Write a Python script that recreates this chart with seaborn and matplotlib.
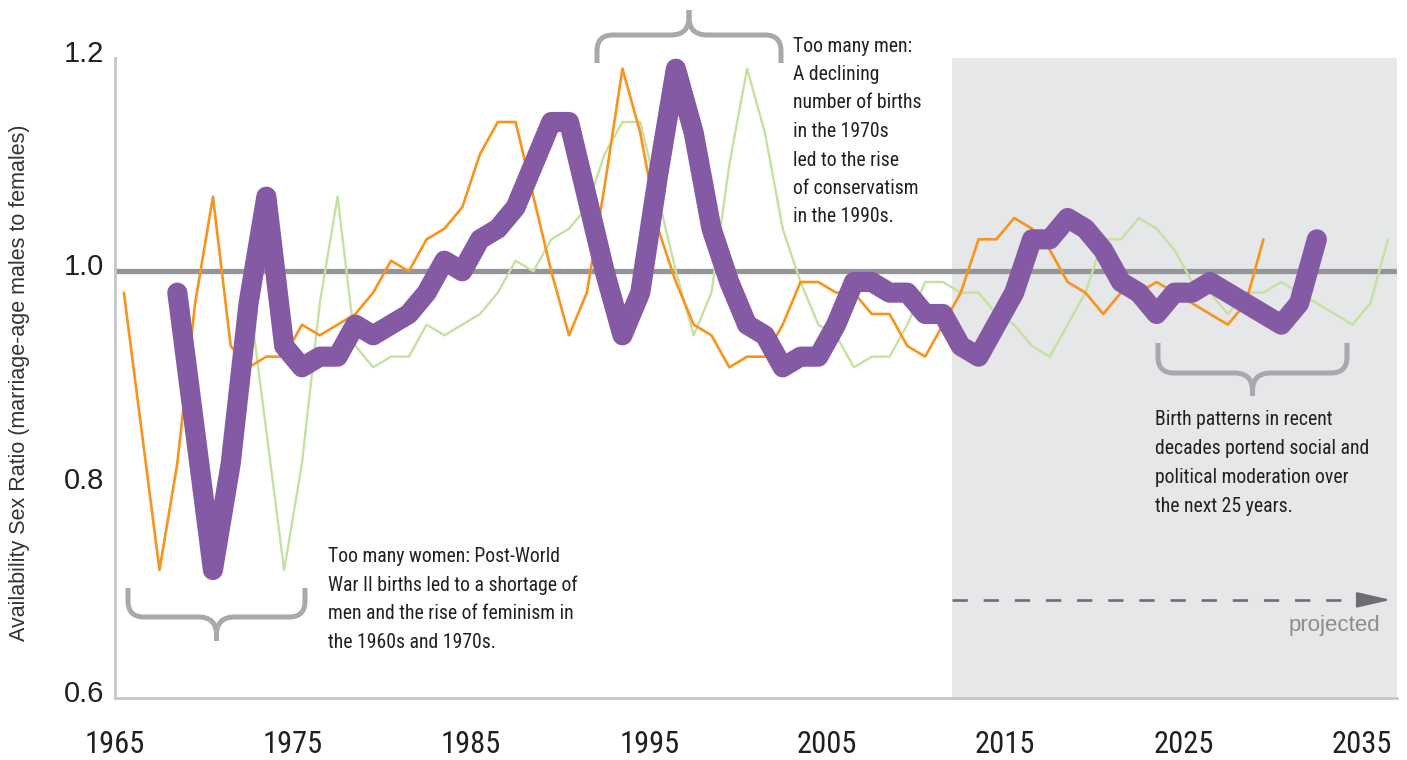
"""
plot.py - Availability sex ratio by cohort, with the projected years shaded.
"""
import matplotlib
matplotlib.use("Agg")
import matplotlib.pyplot as plt
import matplotlib.transforms as mtransforms
from matplotlib import font_manager as fm
from matplotlib.path import Path
from matplotlib.patches import PathPatch
import numpy as np
import pandas as pd
import seaborn as sns

W, H = 1407, 760

# yearly values, each series given as first year + list
ORANGE_START = 1965
ORANGE = [0.98, 0.85, 0.72, 0.82, 0.97, 1.07, 0.93, 0.91, 0.92, 0.92,
          0.95, 0.94, 0.95, 0.96, 0.98, 1.01, 1.00, 1.03, 1.04, 1.06,
          1.11, 1.14, 1.14, 1.07, 1.00, 0.94, 0.98, 1.08, 1.19, 1.13,
          1.04, 0.99, 0.95, 0.94, 0.91, 0.92, 0.92, 0.95, 0.99, 0.99,
          0.98, 0.98, 0.96, 0.96, 0.93, 0.92, 0.95, 0.98, 1.03, 1.03,
          1.05, 1.04, 1.02, 0.99, 0.98, 0.96, 0.98, 0.98, 0.99, 0.98,
          0.97, 0.96, 0.95, 0.97, 1.03]

PURPLE_START = 1968
PURPLE = [0.98, 0.85, 0.72, 0.82, 0.97, 1.07, 0.93, 0.91, 0.92, 0.92,
          0.95, 0.94, 0.95, 0.96, 0.98, 1.01, 1.00, 1.03, 1.04, 1.06,
          1.10, 1.14, 1.14, 1.07, 1.00, 0.94, 0.98, 1.09, 1.19, 1.13,
          1.04, 0.99, 0.95, 0.94, 0.91, 0.92, 0.92, 0.95, 0.99, 0.99,
          0.98, 0.98, 0.96, 0.96, 0.93, 0.92, 0.95, 0.98, 1.03, 1.03,
          1.05, 1.04, 1.02, 0.99, 0.98, 0.96, 0.98, 0.98, 0.99, 0.98,
          0.97, 0.96, 0.95, 0.97, 1.03]

GREEN_START = 1972
GREEN = [0.98, 0.85, 0.72, 0.82, 0.97, 1.07, 0.93, 0.91, 0.92, 0.92,
         0.95, 0.94, 0.95, 0.96, 0.98, 1.01, 1.00, 1.03, 1.04, 1.06,
         1.11, 1.14, 1.14, 1.07, 1.00, 0.94, 0.98, 1.10, 1.19, 1.13,
         1.04, 0.99, 0.95, 0.94, 0.91, 0.92, 0.92, 0.95, 0.99, 0.99,
         0.98, 0.98, 0.96, 0.95, 0.93, 0.92, 0.95, 0.98, 1.03, 1.03,
         1.05, 1.04, 1.02, 0.99, 0.98, 0.96, 0.98, 0.98, 0.99, 0.98,
         0.97, 0.96, 0.95, 0.97, 1.03]

X_TICKS = [1965, 1975, 1985, 1995, 2005, 2015, 2025, 2035]
Y_TICKS = [0.6, 0.8, 1.0, 1.2]
Y_TICK_LABELS = ["0.6", "0.8", "1.0", "1.2"]
X_RANGE = (1965, 2037)
Y_RANGE = (0.6, 1.2)
PROJECTED_FROM = 2012
PARITY = 1.0
ARROW_Y = 0.692

Y_LABEL = "Availability Sex Ratio (marriage-age males to females)"
NOTE_WOMEN = ["Too many women: Post-World",
              "War II births led to a shortage of",
              "men and the rise of feminism in",
              "the 1960s and 1970s."]
NOTE_MEN = ["Too many men:", "A declining", "number of births", "in the 1970s",
            "led to the rise", "of conservatism", "in the 1990s."]
NOTE_FUTURE = ["Birth patterns in recent", "decades portend social and",
               "political moderation over", "the next 25 years."]
PROJECTED_LABEL = "projected"

PURPLE_C = "#855aa5"
ORANGE_C = "#f7941d"
GREEN_C = "#c6e09f"
PARITY_C = "#939598"
SHADE_C = "#e6e7e8"
AXIS_C = "#c4c6c8"
BRACE_C = "#a7a9ac"
TEXT_C = "#231f20"
ARROW_C = "#6d6e71"

REGULAR = ["Liberation Sans", "DejaVu Sans"]


def find_condensed():
    # look for an installed condensed / narrow regular face
    prefer = ["Roboto Condensed", "Liberation Sans Narrow", "Noto Sans",
              "DejaVu Sans", "Open Sans", "Roboto", "Lato", "Inter"]
    found = {}
    for f in fm.fontManager.ttflist:
        if f.style != "normal" or f.weight not in (400, "normal", "regular", "book"):
            continue
        narrow = f.stretch in ("condensed", "semi-condensed", "extra-condensed") \
            or "Narrow" in f.name or "Condensed" in f.name
        if narrow:
            found.setdefault(f.name, f.fname)
    for name in prefer:
        if name in found:
            return found[name]
    if found:
        return found[sorted(found)[0]]
    return None


COND_FILE = find_condensed()


def cond(size):
    if COND_FILE:
        return fm.FontProperties(fname=COND_FILE, size=size)
    return fm.FontProperties(family=REGULAR, size=size * 0.82)


def series_frame(name, start, values):
    years = np.arange(start, start + len(values))
    return pd.DataFrame({"series": name, "year": years, "ratio": values})


def px(x, y):
    # image pixel (top-left origin) -> figure fraction
    return (x / W, 1 - y / H)


def brace(fig, x0, x1, y_end, y_bar, y_tip, r=16, tip_r=18):
    xc = (x0 + x1) / 2
    s = 1 if y_bar > y_end else -1
    codes = [Path.MOVETO, Path.LINETO, Path.CURVE3, Path.CURVE3,
             Path.LINETO, Path.CURVE3, Path.CURVE3, Path.LINETO]
    for xe, d in ((x0, 1), (x1, -1)):
        verts = [(xe, y_end), (xe, y_bar - s * r), (xe, y_bar), (xe + d * r, y_bar),
                 (xc - d * tip_r, y_bar), (xc, y_bar), (xc, y_bar + s * tip_r), (xc, y_tip)]
        path = Path([px(*v) for v in verts], codes)
        fig.add_artist(PathPatch(path, transform=fig.transFigure, fill=False,
                                 edgecolor=BRACE_C, linewidth=3.6,
                                 capstyle="butt", joinstyle="round"))


def note(fig, x, y0, lines, pitch=28.7):
    for i, line in enumerate(lines):
        fig.text(*px(x, y0 + i * pitch), line, ha="left", va="baseline",
                 fontproperties=cond(14.2), color=TEXT_C)


df = pd.concat([series_frame("green", GREEN_START, GREEN),
                series_frame("orange", ORANGE_START, ORANGE),
                series_frame("purple", PURPLE_START, PURPLE)], ignore_index=True)
df["x"] = df["year"] + 0.5  # points sit mid-year, between the year ticks

sns.set_theme(style="white")
plt.rcParams["font.family"] = REGULAR

fig = plt.figure(figsize=(W / 100, H / 100), dpi=100)
ax = fig.add_axes([115 / W, 62 / H, (1397 - 115) / W, (698 - 58) / H])

ax.axvspan(PROJECTED_FROM, X_RANGE[1], color=SHADE_C, lw=0, zorder=0)
ax.axhline(PARITY, color=PARITY_C, lw=3.8, zorder=1)

styles = [("green", GREEN_C, 1.7), ("orange", ORANGE_C, 1.9), ("purple", PURPLE_C, 14.5)]
for z, (name, color, lw) in enumerate(styles):
    sns.lineplot(data=df[df["series"] == name], x="x", y="ratio", ax=ax,
                 color=color, linewidth=lw, errorbar=None, legend=False,
                 solid_capstyle="round", solid_joinstyle="round",
                 clip_on=False, zorder=2 + z)

# projected arrow: dashed shaft + solid head
head_len = 1.65
ax.plot([PROJECTED_FROM, X_RANGE[1] - 0.35 - head_len], [ARROW_Y, ARROW_Y],
        color=ARROW_C, lw=1.9, dashes=(5.8, 6.0), solid_capstyle="butt", zorder=2)
ax.annotate("", xy=(X_RANGE[1] - 0.35, ARROW_Y), xytext=(X_RANGE[1] - 0.35 - head_len, ARROW_Y),
            arrowprops=dict(arrowstyle="-|>,head_length=1.05,head_width=0.24",
                            mutation_scale=20, color=ARROW_C, lw=1.5,
                            shrinkA=0, shrinkB=0), zorder=2)

ax.set_xlim(*X_RANGE)
ax.set_ylim(*Y_RANGE)
ax.set_xticks(X_TICKS)
ax.set_xticklabels([str(t) for t in X_TICKS], color=TEXT_C)
for lab in ax.get_xticklabels():
    lab.set_fontproperties(cond(22))
ax.set_yticks(Y_TICKS)
ax.set_yticklabels(Y_TICK_LABELS, fontsize=21, color=TEXT_C)
ax.set_xlabel("")
ax.set_ylabel("")
ax.grid(False)

ax.tick_params(axis="x", direction="in", length=10, width=1.3, color=AXIS_C, pad=23)
ax.tick_params(axis="y", direction="in", length=23, width=1.6, color=AXIS_C, pad=8)
lift = mtransforms.ScaledTranslation(0, 7 / 100, fig.dpi_scale_trans)
for lab in ax.get_yticklabels():
    lab.set_transform(lab.get_transform() + lift)

sns.despine(ax=ax)
for side in ("left", "bottom"):
    ax.spines[side].set_color(AXIS_C)
    ax.spines[side].set_linewidth(2.0)

fig.text(*px(20, 383), Y_LABEL, rotation=90, ha="center", va="center",
         fontsize=15.5, color="#333333")

brace(fig, 128, 305, 588, 617, 641)
brace(fig, 597, 781, 63, 35, 10)
brace(fig, 1158, 1347, 343, 373, 396)

note(fig, 328, 562, NOTE_WOMEN)
note(fig, 793, 51.5, NOTE_MEN, pitch=28.5)
note(fig, 1155, 425, NOTE_FUTURE, pitch=28.9)

fig.text(*px(1380, 625), PROJECTED_LABEL, ha="right", va="center",
         fontsize=16, color="#8a8c8e")

fig.savefig("out.png", dpi=100)
